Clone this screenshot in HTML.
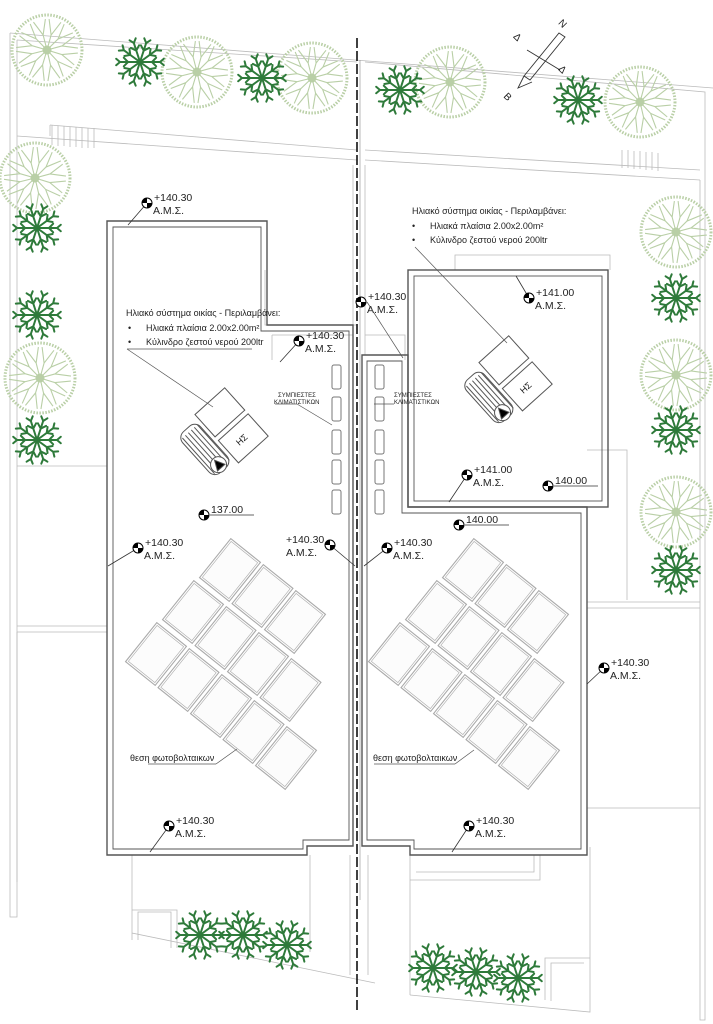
<!DOCTYPE html>
<html><head><meta charset="utf-8"><style>
html,body{margin:0;padding:0;background:#fff}
svg{display:block}
text{font-family:"Liberation Sans",sans-serif;fill:#222}
</style></head><body>
<svg id="s" width="713" height="1024" viewBox="0 0 713 1024" xmlns="http://www.w3.org/2000/svg">
<g fill="none" stroke="#bbb" stroke-width="0.8">
<polyline points="10,33 713,88"/>
<polyline points="17,40 357,62"/>
<polyline points="17,40 17,917 10,917 10,33"/>
<polyline points="17,136 357,160"/>
<polyline points="50,125 357,150"/>
<polyline points="50,125 50,136"/>
<polyline points="365,160 700,180"/>
<polyline points="365,150 700,170"/>
<polyline points="365,62 705,92 705,1020 700,1020 700,180"/>
<path d="M52,145 v-20 M58,146 v-20 M64,146 v-20 M70,147 v-20 M76,147 v-20 M82,148 v-20 M88,148 v-20 M94,148 v-20"/>
<path d="M622,150 v18 M628,150 v18 M634,151 v18 M640,151 v18 M646,152 v18 M652,152 v18 M658,153 v18"/>
<path d="M353,165 v160 M365,165 v190"/>
<path d="M17,626 h90 M17,632 h90 M17,632 v250"/>
<path d="M587,602 h113 M587,608 h113 M587,608 v200 h113"/>
<path d="M17,466 h90"/>
<path d="M587,450 h40 v150"/>
<path d="M132,855 v78 l243,50 M132,940 v-30 h45 v38 M138,940 v-28 h33 v36"/>
<path d="M310,855 v97 M350,855 v120 M368,855 v120 M410,855 v140"/>
<path d="M410,880 h130 v-25 M416,872 h118 v-17"/>
<path d="M410,995 l180,17 v-165 M545,1000 v-42 h45 M551,1001 v-38 h33"/>
<path d="M265,270 v55 h92 M272,335 h81 v25 M272,335 v25"/>
<path d="M455,270 v-15 h155 v15"/>
<path d="M365,335 h40 v25"/>
</g>
<line x1="357" y1="38" x2="357" y2="1010" stroke="#111" stroke-width="1.6" stroke-dasharray="10,3"/>
<line x1="360" y1="60" x2="360" y2="900" stroke="#888" stroke-width="0.6"/>
<g fill="none" stroke="#555" stroke-width="1.4">
<path d="M107,221 H267 V325 H353 V846 H307 V855 H107 Z"/>
<path d="M113,227 H261 V331 H349 V840 H303 V849 H113 Z" stroke-width="0.9"/>
<path d="M362,355 H408 V507 H587 V855 H410 V846 H362 Z"/>
<path d="M367,361 H402 V513 H581 V849 H414 V840 H367 Z" stroke-width="0.9"/>
<rect x="408" y="270" width="200" height="237"/>
<rect x="414" y="276" width="188" height="225" stroke-width="0.9"/>
</g>
<g id="dyn"></g>
<g stroke="#333" fill="none" stroke-width="0.9">
<path d="M559,33 L565,37 L530,80 L524,76 Z"/>
<path d="M524,76 L518,88 L532,82"/>
<path d="M527,50 L560,70"/>
</g>
<text x="560" y="26" font-size="10" transform="rotate(45 562 22)">Ν</text>
<text x="514" y="40" font-size="10" transform="rotate(45 517 37)">Δ</text>
<text x="560" y="72" font-size="10" transform="rotate(45 562 68)">Δ</text>
<text x="505" y="100" font-size="10" transform="rotate(45 508 96)">Β</text>
<g font-size="9">
<text x="126" y="316">Ηλιακό σύστημα οικίας - Περιλαμβάνει:</text>
<text x="128" y="331">•</text><text x="146" y="331">Ηλιακά πλαίσια 2.00x2.00m²</text>
<text x="128" y="345">•</text><text x="146" y="345">Κύλινδρο ζεστού νερού 200ltr</text>
<text x="412" y="214">Ηλιακό σύστημα οικίας - Περιλαμβάνει:</text>
<text x="412" y="229">•</text><text x="430" y="229">Ηλιακά πλαίσια 2.00x2.00m²</text>
<text x="412" y="243">•</text><text x="430" y="243">Κύλινδρο ζεστού νερού 200ltr</text>
<text x="130" y="761">θεση φωτοβολταικων</text>
<text x="373" y="761">θεση φωτοβολταικων</text>
</g>
<g font-size="6">
<text x="278" y="397">ΣΥΜΠΙΕΣΤΕΣ</text><text x="274" y="404">ΚΛΙΜΑΤΙΣΤΙΚΩΝ</text>
<text x="394" y="397">ΣΥΜΠΙΕΣΤΕΣ</text><text x="394" y="404">ΚΛΙΜΑΤΙΣΤΙΚΩΝ</text>
</g>
<g stroke="#555" stroke-width="0.7" fill="none">
<line x1="127" y1="349" x2="252" y2="349"/>
<line x1="127" y1="349" x2="213" y2="407"/>
<line x1="415" y1="247" x2="507" y2="343"/>
<line x1="148" y1="764" x2="216" y2="764"/><line x1="216" y1="764" x2="237" y2="749"/>
<line x1="374" y1="764" x2="455" y2="764"/><line x1="455" y1="764" x2="474" y2="750"/>
<line x1="367" y1="302" x2="403" y2="358"/>
<line x1="275" y1="404" x2="297" y2="404"/><line x1="297" y1="404" x2="332" y2="425"/>
<line x1="394" y1="404" x2="374" y2="404"/>
</g>
</svg>
<script>
const NS="http://www.w3.org/2000/svg",d=document.getElementById('dyn');
function el(t,a,p){const e=document.createElementNS(NS,t);for(const k in a)e.setAttribute(k,a[k]);(p||d).appendChild(e);return e}
[[47,50],[197,72],[312,78],[450,82],[640,102],[35,178],[676,232],[40,378],[676,375],[676,512]].forEach(([x,y])=>{
 const g=el('g',{stroke:'#b9cfa6',fill:'none','stroke-width':'1.1'});
 el('circle',{cx:x,cy:y,r:35,'stroke-dasharray':'1.5,1.5','stroke-width':'3'},g);
 for(let i=0;i<12;i++){const a=i*0.52+0.3,r=31;const mx=x+Math.cos(a)*r*0.5,my=y+Math.sin(a)*r*0.5;
  el('path',{d:`M${x},${y} L${mx},${my} L${x+Math.cos(a-0.2)*r},${y+Math.sin(a-0.2)*r} M${mx},${my} L${x+Math.cos(a+0.2)*r},${y+Math.sin(a+0.2)*r}`},g);}
 el('circle',{cx:x,cy:y,r:4,fill:'#b9cfa6'},g);
});
[[140,62],[262,78],[400,90],[578,100],[37,228],[37,315],[37,440],[676,298],[676,430],[676,570],[200,935],[243,935],[287,945],[433,968],[476,972],[518,978]].forEach(([x,y])=>{
 const g=el('g',{stroke:'#2e7a3a',fill:'none','stroke-width':'2','stroke-linecap':'round'});
 for(let i=0;i<10;i++){const a=i*Math.PI/5,r=20;const ex=x+Math.cos(a)*r,ey=y+Math.sin(a)*r,mx=x+Math.cos(a)*r*0.6,my=y+Math.sin(a)*r*0.6;
  el('path',{d:`M${x},${y} L${ex},${ey} M${mx},${my} l${Math.cos(a+0.8)*6},${Math.sin(a+0.8)*6} M${mx},${my} l${Math.cos(a-0.8)*6},${Math.sin(a-0.8)*6} M${ex},${ey} l${Math.cos(a+0.7)*5},${Math.sin(a+0.7)*5} M${ex},${ey} l${Math.cos(a-0.7)*5},${Math.sin(a-0.7)*5}`},g);}
});
// PV panels: grid axes u=(32.5,26), v=(-37,42)
function panels(tx,ty){const rows=[3,4,5];
 rows.forEach((n,r)=>{for(let c=0;c<n;c++){const cx=tx+c*32.5-37*r,cy=ty+c*26+42*r;
  const g=el('g',{transform:`translate(${cx},${cy}) rotate(38.7)`,fill:'#fcfcfc',stroke:'#aaa','stroke-width':'1.1'});
  el('rect',{x:-19,y:-25,width:38,height:50},g);
  el('rect',{x:-17,y:-23,width:34,height:46,fill:'none','stroke-width':'0.6'},g);}});}
panels(230,570);panels(473,570);
function heater(x,y){const g=el('g',{transform:`translate(${x},${y}) rotate(-42)`,fill:'#fff',stroke:'#555','stroke-width':'1'});
 el('rect',{x:-12,y:-45,width:40,height:30},g);el('rect',{x:-12,y:-10,width:40,height:30},g);
 el('text',{x:0,y:8,'font-size':'9',fill:'#333',stroke:'none'},g).textContent='ΗΣ';
 el('rect',{x:-40,y:-40,width:24,height:55,rx:8},g);
 for(let i=0;i<6;i++)el('line',{x1:-37+i*4,y1:-36,x2:-37+i*4,y2:12},g);
 el('circle',{cx:-28,cy:8,r:8,fill:'#fff'},g);el('path',{d:'M-33,12 L-28,2 L-23,12 Z',fill:'#000'},g);}
heater(234,440);heater(518,388);
[[336,375],[336,407],[336,440],[336,470],[336,500],[379,375],[379,407],[379,440],[379,470],[379,500]].forEach(([x,y])=>{
 el('rect',{x:x-4,y:y-10,width:9,height:24,rx:2,fill:'none',stroke:'#777','stroke-width':'1'});});
function mark(x,y,t1,t2,lx,ly,left){const g=el('g',{});
 if(lx!==undefined)el('line',{x1:x,y1:y,x2:lx,y2:ly,stroke:'#333','stroke-width':'0.8'},g);
 el('circle',{cx:x,cy:y,r:5,fill:'#fff',stroke:'#000','stroke-width':'1'},g);
 el('path',{d:`M${x},${y} L${x+5},${y} A5,5 0 0 1 ${x},${y+5} Z M${x},${y} L${x-5},${y} A5,5 0 0 1 ${x},${y-5} Z`,fill:'#000'},g);
 const tx=left?x-44:x+7;
 el('text',{x:tx,y:y-2,'font-size':'10.5'},g).textContent=t1;
 if(t2)el('text',{x:left?tx:x+6,y:y+11,'font-size':'10.5'},g).textContent=t2;
 else el('line',{x1:x+6,y1:y,x2:x+50,y2:y,stroke:'#333','stroke-width':'0.7'},g);}
mark(147,203,'+140.30','Α.Μ.Σ.',128,225);
mark(361,302,'+140.30','Α.Μ.Σ.');
mark(299,341,'+140.30','Α.Μ.Σ.',280,362);
mark(529,298,'+141.00','Α.Μ.Σ.',516,276);
mark(467,475,'+141.00','Α.Μ.Σ.',449,502);
mark(548,486,'140.00');
mark(204,515,'137.00');
mark(459,525,'140.00');
mark(138,548,'+140.30','Α.Μ.Σ.',108,566);
mark(330,545,'+140.30','Α.Μ.Σ.',355,566,true);
mark(387,548,'+140.30','Α.Μ.Σ.',364,566);
mark(604,668,'+140.30','Α.Μ.Σ.',587,684);
mark(169,826,'+140.30','Α.Μ.Σ.',150,852);
mark(469,826,'+140.30','Α.Μ.Σ.',452,852);
</script>
</body></html>
